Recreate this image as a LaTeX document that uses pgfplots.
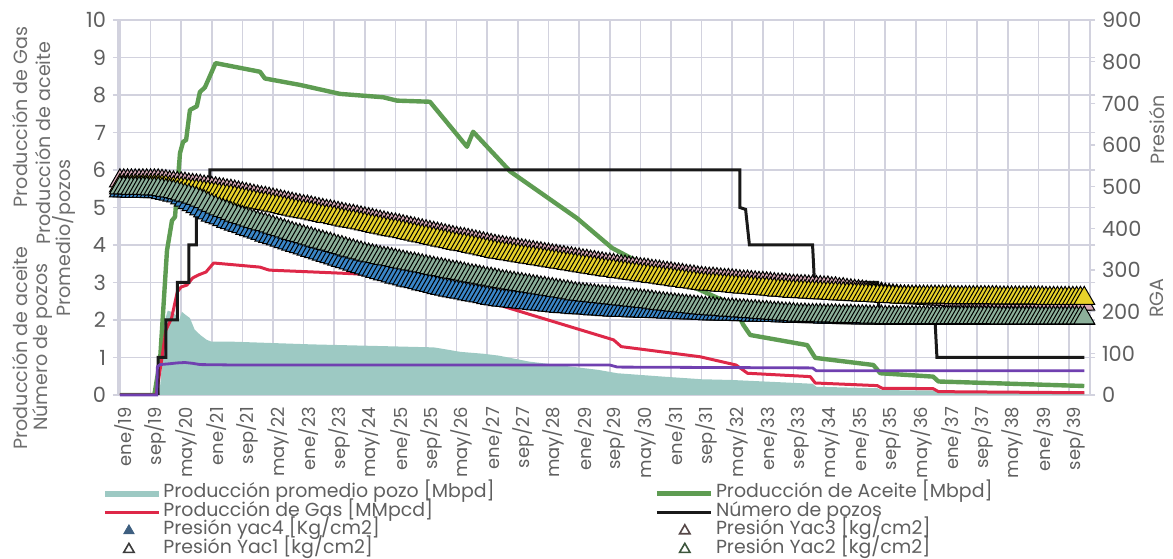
\documentclass[border=0pt]{standalone}
\usepackage{pgfplots}
\pgfplotsset{compat=1.18}
\usepackage{pgfplotstable}
\usepackage{fontspec}
\setmainfont{Poppins}
\definecolor{gridc}{RGB}{210,210,222}
\definecolor{txt}{RGB}{95,95,95}
\definecolor{lblc}{RGB}{110,110,110}
\definecolor{areac}{RGB}{157,201,195}
\definecolor{oilc}{RGB}{94,156,82}
\definecolor{gasc}{RGB}{222,40,72}
\definecolor{wellc}{RGB}{25,25,25}
\definecolor{rgac}{RGB}{112,64,176}
\definecolor{bluec}{RGB}{58,134,200}
\definecolor{pinkc}{RGB}{216,170,182}
\definecolor{yelc}{RGB}{232,210,42}
\definecolor{grnc}{RGB}{140,176,154}
\definecolor{leg4}{RGB}{62,95,128}
\definecolor{leg3}{RGB}{85,70,70}
\definecolor{leg1}{RGB}{60,60,60}
\definecolor{leg2}{RGB}{60,85,60}
\newcommand{\fs}{\fontsize{9.5}{11}\selectfont}
\newcommand{\ft}{\fontsize{10.5}{12}\selectfont}
\newcommand{\fx}{\fontsize{9}{10.5}\selectfont}
\newcommand{\fl}{\fontsize{9.6}{11}\selectfont}

\pgfplotstableread{
m v
0 0
10.3 0
11 0.8
11.5 1.9
12.5 2.25
14 2.2
15.5 2.0
16.2 2.22
17 2.15
18.3 2.05
19.5 1.75
21 1.6
22.7 1.47
24 1.42
30 1.42
50 1.35
70 1.3
82 1.27
85 1.22
89 1.15
95 1.1
99 1.05
107 0.89
125 0.67
130 0.58
142 0.49
152 0.42
160 0.4
181 0.3
182 0.22
198 0.18
199 0.13
213 0.12
214 0.08
252 0.07
}\areadata

\pgfplotstableread{
m v
0 0
9 0
10.5 0.94
12.3 3.85
13.6 4.65
14.4 4.75
15.7 6.45
16.5 6.75
17.3 6.8
18.3 7.6
20.1 7.7
20.9 8.08
22.2 8.2
25 8.85
36.6 8.62
37.9 8.44
47 8.27
57.5 8.03
68.8 7.94
72.4 7.85
81 7.82
90.7 6.62
92.3 7.02
102 5.96
119.5 4.71
128.6 3.92
140 3.3
151.6 2.8
160.3 2.4
162.9 1.87
164.7 1.6
179.6 1.33
181.7 0.99
196.9 0.8
198.7 0.58
212.5 0.49
213.9 0.36
252 0.24
}\oildata

\pgfplotstableread{
m v
0 0
9.5 0
11 1.0
12 1.73
13.5 2.05
15 2.75
16 2.88
17.5 2.93
19 3.12
20.5 3.2
22.5 3.28
24.5 3.52
36.6 3.41
39 3.33
57.5 3.25
68 3.2
75 3.1
85 2.85
99 2.4
129 1.47
131 1.29
151.6 1.02
161 0.8
164 0.58
180.4 0.49
181.7 0.32
197.9 0.25
199.2 0.18
212.5 0.17
213.9 0.09
252 0.06
}\gasdata

\pgfplotstableread{
m v
0 0
10 0
10 1
12 1
12 2
15 2
15 3
18 3
18 4
20 4
20 5
23.5 5
23.5 6
162 6
162 5
163.5 4.95
164.5 4
181 4
181.5 3
198 3
198.5 2
213 2
213.5 1
252 1
}\wellsdata

\pgfplotstableread{
m v
0 0
9.6 0
9.8 68
10.5 73
13 75
15 77
17 78
19 76
21 73
30 72
60 72
100 72
128 72
130 67
181 65
182 58
252 58
}\rgadata

\pgfplotstableread{
m b p y g
0 490 514 502 497
1 490 514 502 497
2 490 514 502 497
3 489 514 502 496
4 489 514 502 496
5 489 514 502 496
6 489 514 502 496
7 489 514 502 496
8 488 514 502 495
9 488 514 502 495
10 488 514 502 495
11 486 513 501 493
12 484 512 500 491
13 482 510 498 490
14 480 509 497 488
15 478 508 496 486
16 473 507 495 483
17 468 506 494 480
18 462 504 492 478
19 457 503 491 475
20 452 502 490 472
21 447 501 489 468
22 442 499 487 464
23 437 498 486 459
24 432 496 484 455
25 428 495 483 451
26 425 493 481 447
27 421 492 480 443
28 417 490 478 440
29 414 489 477 436
30 410 487 475 432
31 407 485 473 429
32 404 483 471 426
33 400 481 469 423
34 397 479 467 420
35 394 477 465 417
36 391 475 463 414
37 388 473 461 411
38 384 472 460 409
39 381 470 458 406
40 378 468 456 403
41 375 466 454 400
42 372 464 452 397
43 368 462 450 394
44 365 460 448 391
45 362 458 446 388
46 359 456 444 385
47 356 454 442 383
48 353 452 440 380
49 350 451 439 377
50 347 449 437 375
51 344 447 435 372
52 341 445 433 369
53 338 443 431 367
54 335 441 429 364
55 332 440 428 362
56 329 438 426 359
57 326 436 424 356
58 323 434 422 354
59 320 432 420 351
60 317 430 418 348
61 314 429 417 346
62 311 427 415 343
63 308 425 413 341
64 305 423 411 338
65 302 421 409 336
66 300 419 407 334
67 297 417 405 332
68 294 415 403 330
69 291 413 401 328
70 289 411 399 327
71 286 409 397 325
72 283 408 396 323
73 281 406 394 321
74 279 404 392 319
75 276 402 390 317
76 274 400 388 315
77 272 398 386 314
78 270 396 384 312
79 267 394 382 310
80 265 392 380 308
81 263 390 378 306
82 261 388 376 304
83 258 386 374 302
84 256 384 372 301
85 254 382 370 299
86 252 380 368 297
87 250 378 366 295
88 248 376 364 294
89 247 374 362 292
90 245 373 361 290
91 243 371 359 288
92 241 369 357 286
93 240 367 355 285
94 238 365 353 283
95 236 363 351 281
96 234 361 349 279
97 232 359 347 278
98 231 357 345 276
99 229 355 343 274
100 228 354 342 272
101 227 352 340 271
102 226 351 339 269
103 225 349 337 268
104 224 348 336 266
105 223 346 334 265
106 222 345 333 263
107 221 343 331 262
108 220 342 330 260
109 219 340 328 259
110 218 339 327 257
111 217 337 325 256
112 216 336 324 254
113 215 334 322 253
114 214 333 321 251
115 213 331 319 250
116 212 330 318 248
117 212 328 316 247
118 211 327 315 245
119 210 325 313 243
120 210 324 312 242
121 209 322 310 241
122 209 321 309 240
123 208 319 307 239
124 207 318 306 238
125 207 316 304 237
126 206 315 303 236
127 205 313 301 235
128 205 312 300 234
129 204 311 299 233
130 204 309 297 232
131 203 308 296 231
132 203 307 295 230
133 203 305 293 229
134 202 304 292 228
135 202 303 291 227
136 202 301 289 226
137 201 300 288 225
138 201 299 287 224
139 201 297 285 223
140 200 296 284 221
141 200 295 283 220
142 200 293 281 219
143 199 292 280 218
144 199 291 279 217
145 199 289 277 216
146 198 288 276 215
147 198 287 275 214
148 198 285 273 213
149 197 284 272 212
150 197 283 271 211
151 197 281 269 210
152 196 280 268 209
153 196 279 267 208
154 195 278 266 208
155 195 278 266 207
156 195 277 265 206
157 195 276 264 206
158 194 275 263 205
159 194 275 263 204
160 194 274 262 204
161 194 273 261 203
162 193 272 260 202
163 193 271 259 202
164 193 271 259 201
165 192 270 258 200
166 192 269 257 200
167 192 268 256 199
168 192 268 256 198
169 191 267 255 198
170 191 266 254 197
171 191 265 253 196
172 191 264 252 196
173 190 264 252 195
174 190 263 251 194
175 190 262 250 194
176 189 261 249 193
177 189 261 249 192
178 189 260 248 192
179 189 260 248 192
180 188 259 247 191
181 188 259 247 191
182 188 258 246 191
183 188 258 246 191
184 187 257 245 190
185 187 257 245 190
186 187 255 244 190
187 187 255 244 190
188 187 253 243 189
189 186 253 243 189
190 186 251 242 189
191 186 250 242 189
192 186 249 241 188
193 186 248 241 188
194 185 247 240 188
195 185 246 240 188
196 185 244 239 187
197 185 244 239 187
198 185 242 238 187
199 185 242 238 187
200 184 240 237 186
201 184 239 237 186
202 184 238 236 186
203 184 237 236 186
204 184 236 235 186
205 184 235 235 186
206 184 235 235 186
207 184 234 235 186
208 184 234 235 186
209 184 233 235 186
210 184 233 235 186
211 184 232 235 186
212 184 232 235 186
213 184 231 235 186
214 184 231 235 186
215 184 230 235 186
216 184 230 235 186
217 184 229 235 186
218 184 227 234 186
219 184 227 234 186
220 184 226 234 186
221 184 226 234 186
222 184 225 234 186
223 184 225 234 186
224 184 224 234 186
225 184 224 234 186
226 184 224 234 186
227 184 223 234 186
228 184 223 234 186
229 184 222 234 186
230 184 221 233 185
231 184 220 233 185
232 184 220 233 185
233 184 220 233 185
234 184 220 233 185
235 184 220 233 185
236 184 220 233 185
237 184 220 233 185
238 184 220 233 185
239 184 220 233 185
240 184 220 233 185
241 184 219 233 185
242 184 218 232 185
243 184 218 232 185
244 184 218 232 185
245 184 218 232 185
246 184 218 232 185
247 184 218 232 185
248 184 218 232 185
249 184 218 232 185
250 184 218 232 185
251 184 218 232 185
252 184 218 232 185
}\pressdata

\pgfplotsset{
  basebox/.style={
    at={(59bp,82bp)}, anchor=south west, scale only axis,
    width=486bp, height=187.5bp,
    xmin=-0.5, xmax=253.5,
    axis line style={gridc, line width=0.8bp},
    tick align=outside, major tick length=2.5bp,
    ticklabel style={font=\ft, text=txt, /pgf/number format/assume math mode=true},
  },
  bandstyle/.style={only marks, mark=triangle*, mark size=6bp,
    mark options={draw=black, line width=0.5bp, fill=#1}},
  legline/.style={legend image code/.code={\draw[##1] (0bp,0bp) -- (27bp,0bp);}},
  legarea/.style={legend image code/.code={\fill[areac] (0bp,-1.5bp) rectangle (27bp,1.5bp);}},
  legtri/.style={only marks, mark=triangle*, mark size=3bp,
    legend image code/.code={\path[draw=none] (0bp,0bp) (27bp,0bp); \draw[##1] plot coordinates {(#1,0bp)};}},
}

\begin{document}
\begin{tikzpicture}
\path[use as bounding box] (0,0) rectangle (586.5bp,279.5bp);
\begin{axis}[basebox,
  ymin=0, ymax=10, ytick={0,1,...,10},
  xtick={0,8,...,248},
  xticklabels={ene/19,sep/19,may/20,ene/21,sep/21,may/22,ene/23,sep/23,may/24,ene/25,sep/25,may/26,ene/27,sep/27,may/28,ene/29,sep/29,may/30,ene/31,sep/31,may/32,ene/33,sep/33,may/34,ene/35,sep/35,may/36,ene/37,sep/37,may/38,ene/39,sep/39},
  x tick label style={rotate=90, anchor=east, yshift=-2.5bp, font=\fx},
  xtick style={draw=none},
  ytick style={gridc, line width=0.8bp},
  grid=major, grid style={gridc, line width=0.8bp},
  legend columns=2,
  legend style={at={(-0.0154,-0.237)}, anchor=north west, draw=none, fill=none,
    font=\fs, text=txt, inner sep=0pt, row sep=0pt,
    nodes={inner xsep=1.5bp, inner ysep=0pt, text height=6.7bp, text depth=2.6bp},
    /tikz/column 2/.style={column sep=78.5bp}},
  legend cell align=left,
]
\addplot[fill=areac, draw=none, legarea] table[x=m, y=v] {\areadata} \closedcycle;
\addlegendentry{Producción promedio pozo [Mbpd]}
\addplot[oilc, line width=2.2bp, line join=round, legline] table[x=m, y=v] {\oildata};
\addlegendentry{Producción de Aceite [Mbpd]}
\addplot[gasc, line width=1.5bp, line join=round, legline] table[x=m, y=v] {\gasdata};
\addlegendentry{Producción de Gas [MMpcd]}
\addplot[wellc, line width=1.5bp, legline] table[x=m, y=v] {\wellsdata};
\addlegendentry{Número de pozos}
\addlegendimage{legtri=12bp, mark options={fill=leg4, draw=leg4}}
\addlegendentry{Presión yac4 [Kg/cm2]}
\addlegendimage{legtri=14bp, mark options={fill=white, draw=leg3, line width=0.8bp}}
\addlegendentry{Presión Yac3 [kg/cm2]}
\addlegendimage{legtri=12bp, mark options={fill=white, draw=leg1, line width=0.8bp}}
\addlegendentry{Presión Yac1 [kg/cm2]}
\addlegendimage{legtri=14bp, mark options={fill=white, draw=leg2, line width=0.8bp}}
\addlegendentry{Presión Yac2 [kg/cm2]}
\end{axis}

\begin{axis}[basebox,
  ymin=0, ymax=900, ytick={0,100,...,900},
  axis x line=none, axis y line*=right,
  ytick style={gridc, line width=0.8bp},
  clip=false,
]
\addplot[rgac, line width=1.4bp] table[x=m, y=v] {\rgadata};
\addplot[bandstyle=bluec] table[x=m, y=b] {\pressdata};
\addplot[bandstyle=pinkc] table[x=m, y=p] {\pressdata};
\addplot[bandstyle=yelc] table[x=m, y=y] {\pressdata};
\addplot[bandstyle=grnc] table[x=m, y=g] {\pressdata};
\end{axis}

\node[rotate=90, font=\fl, text=lblc] at ({20*0.5bp},{(559-117)*0.5bp}) {Producción de Gas};
\node[rotate=90, font=\fl, text=lblc] at ({20*0.5bp},{(559-348)*0.5bp}) {Producción de aceite};
\node[rotate=90, font=\fl, text=lblc] at ({43*0.5bp},{(559-143)*0.5bp}) {Producción de aceite};
\node[rotate=90, font=\fl, text=lblc] at ({43*0.5bp},{(559-347)*0.5bp}) {Número de pozos};
\node[rotate=90, font=\fl, text=lblc] at ({64*0.5bp},{(559-238)*0.5bp}) {Promedio/pozos};
\node[rotate=90, font=\fl, text=lblc] at ({1157*0.5bp},{(559-130)*0.5bp}) {Presión};
\node[rotate=90, font=\fl, text=lblc] at ({1157*0.5bp},{(559-298)*0.5bp}) {RGA};
\end{tikzpicture}
\end{document}
